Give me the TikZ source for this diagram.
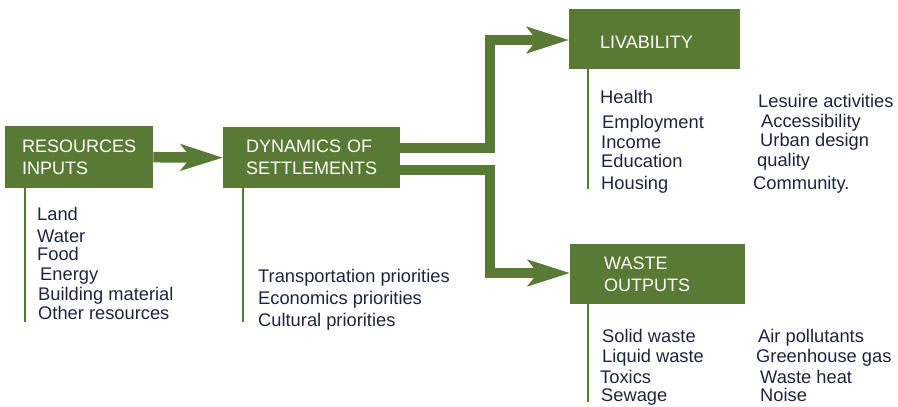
\documentclass[tikz,border=0pt]{standalone}
\usepackage{fontspec}
\setmainfont{Liberation Sans}
\usetikzlibrary{arrows.meta,calc}
\definecolor{leaf}{RGB}{88,122,52}
\definecolor{ink}{RGB}{28,36,64}
\begin{document}
\begin{tikzpicture}[x=1pt,y=-1pt,
  box/.style={fill=leaf,text=white,anchor=north west,align=left,inner ysep=0pt,
    font=\fontsize{18}{22}\selectfont},
  flow/.style={draw=leaf,line width=10.5pt,line join=miter,
    -{Stealth[length=42pt,width=26pt,inset=10pt]}},
  stem/.style={draw=leaf,line width=2.6pt},
  item/.style={anchor=base west,inner sep=0pt,text=ink,
    font=\fontsize{18.3}{22}\selectfont}]
\useasboundingbox (0,0) rectangle (898,407);

% main boxes
\node[box,minimum width=148pt,minimum height=62pt,inner xsep=17pt,text width=114pt]
  (res) at (5,126) {RESOURCES\\INPUTS};
\node[box,minimum width=177pt,minimum height=61pt,inner xsep=23pt,text width=131pt]
  (dyn) at (223,127) {DYNAMICS OF\\SETTLEMENTS};
\node[box,minimum width=171pt,minimum height=60pt,inner xsep=31pt,text width=109pt,
  text height=19pt,text depth=0pt]
  (liv) at (569,9) {LIVABILITY};
\node[box,minimum width=175pt,minimum height=60pt,inner xsep=34pt,text width=107pt]
  (waste) at (570,244) {WASTE\\OUTPUTS};

% flows between boxes
\coordinate (j1) at (490,40);
\coordinate (j2) at (490,273);
\draw[flow] (res.east) -- (dyn.west);
\draw[flow] ($(dyn.east)+(0,-9.5)$) -| (j1) -- (liv.west |- j1);
\draw[flow] ($(dyn.east)+(0,12.5)$) -| (j2) -- (waste.west |- j2);

% stems under the boxes
\draw[stem] ($(res.south west)+(20,0)$) -- ++(0,134);
\draw[stem] ($(dyn.south west)+(20,0)$) -- ++(0,134);
\draw[stem] ($(liv.south west)+(19,0)$) -- ++(0,120);
\draw[stem] ($(waste.south west)+(18,0)$) -- ++(0,98);

% resources
\node[item] (r1) at (37,220) {Land};
\node[item,text depth=0pt] (r2) at (37,242.5) {Water};
\node[item,text height=13pt] (r3) at (37,260.5) {Food};
\node[item] (r4) at (40,280) {Energy};
\node[item] (r5) at (38,300) {Building material};
\node[item] (r6) at (38,319) {Other resources};

% settlement priorities
\node[item] (d1) at (258,282) {Transportation priorities};
\node[item] (d2) at (258,304) {Economics priorities};
\node[item] (d3) at (258,326) {Cultural priorities};

% livability
\node[item] (v1) at (600,103) {Health};
\node[item] (v2) at (602,128) {Employment};
\node[item] (v3) at (601,148) {Income};
\node[item] (v4) at (601,167) {Education};
\node[item] (v5) at (601,189) {Housing};
\node[item] (v6) at (758,107) {Lesuire activities};
\node[item] (v7) at (761,127) {Accessibility};
\node[item] (v8) at (760,146) {Urban design};
\node[item] (v9) at (757,166) {quality};
\node[item] (v10) at (753,189) {Community.};

% waste outputs
\node[item] (w1) at (602,342) {Solid waste};
\node[item] (w2) at (602,362) {Liquid waste};
\node[item] (w3) at (600,383) {Toxics};
\node[item] (w4) at (601,401) {Sewage};
\node[item] (w5) at (758,342) {Air pollutants};
\node[item] (w6) at (756,362) {Greenhouse gas};
\node[item] (w7) at (760,383) {Waste heat};
\node[item] (w8) at (760,401) {Noise};
\end{tikzpicture}
\end{document}
